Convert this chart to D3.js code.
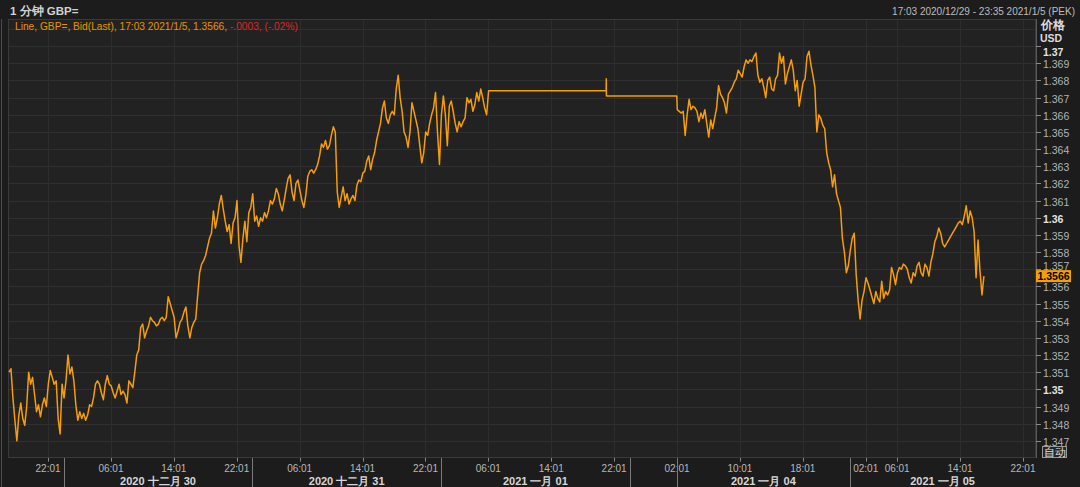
<!DOCTYPE html>
<html><head><meta charset="utf-8">
<script src="https://cdn.jsdelivr.net/npm/d3@7"></script>
<style>
html,body{margin:0;padding:0;background:#1c1c1c;}
svg{display:block;}
text{font-family:"Liberation Sans",Arial,sans-serif;}
</style></head><body>
<svg id="c" width="1080" height="487"></svg>
<script>
// ---------- data ----------
const title = "1 分钟 GBP=";
const rangeLabel = "17:03 2020/12/29 - 23:35 2021/1/5 (PEK)";
const legendMain = "Line, GBP=, Bid(Last), 17:03 2021/1/5, 1.3566, ";
const legendChange = "-.0003, (-.02%)";
const axisTitles = ["价格", "USD"];
const autoLabel = "自动";
const lastPrice = 1.3566;

const gridTicks = [1.347,1.348,1.349,1.350,1.351,1.352,1.353,1.354,1.355,1.356,1.357,1.358,1.359,1.360,1.361,1.362,1.363,1.364,1.365,1.366,1.367,1.368,1.369,1.370,1.371];
const labelTicks = [1.347,1.348,1.349,1.350,1.351,1.352,1.353,1.354,1.355,1.356,1.357,1.358,1.359,1.360,1.361,1.362,1.363,1.364,1.365,1.366,1.367,1.368,1.369,1.370];
const boldTicks = [1.35,1.36,1.37];

const timeTicks = ["2020-12-29T22:01","2020-12-30T06:01","2020-12-30T14:01","2020-12-30T22:01",
  "2020-12-31T06:01","2020-12-31T14:01","2020-12-31T22:01","2021-01-01T06:01","2021-01-01T14:01",
  "2021-01-01T22:01","2021-01-04T02:01","2021-01-04T10:01","2021-01-04T18:01","2021-01-05T02:01",
  "2021-01-05T06:01","2021-01-05T14:01","2021-01-05T22:01"];
const daySeparators = ["2020-12-30T00:00","2020-12-31T00:00","2021-01-01T00:00","2021-01-02T00:00","2021-01-04T02:00","2021-01-05T00:00"];
const dateLabels = ["2020 十二月 30","2020 十二月 31","2021 一月 01","2021 一月 04","2021 一月 05"];
const dateSpans = [["2020-12-30T00:00","2020-12-31T00:00"],["2020-12-31T00:00","2021-01-01T00:00"],
  ["2021-01-01T00:00","2021-01-02T00:00"],["2021-01-04T02:00","2021-01-05T00:00"],["2021-01-05T00:00","2021-01-05T23:35"]];
// trading sessions shown on the (gap-compressed) time axis
const axisBreaks = ["2020-12-29T17:03","2021-01-02T06:00","2021-01-04T02:00","2021-01-05T23:35"];

const stepMinutes = 15;
const seg1Start = "2020-12-29T17:03";
const seg1Prices = [
1.3510,1.3512,1.3495,1.3482,1.3470,1.3485,1.3492,1.3483,1.3479,1.3490,
1.3510,1.3503,1.3507,1.3497,1.3487,1.3491,1.3484,1.3491,1.3495,1.3490,
1.3503,1.3511,1.3507,1.3503,1.3505,1.3483,1.3474,1.3503,1.3495,1.3505,
1.3520,1.3509,1.3513,1.3505,1.3491,1.3482,1.3487,1.3483,1.3486,1.3482,
1.3485,1.3491,1.3490,1.3495,1.3503,1.3505,1.3503,1.3498,1.3494,1.3503,
1.3508,1.3503,1.3502,1.3498,1.3495,1.3499,1.3503,1.3497,1.3499,1.3497,
1.3492,1.3505,1.3503,1.3501,1.3510,1.3520,1.3523,1.3536,1.3538,1.3530,
1.3534,1.3537,1.3542,1.3540,1.3539,1.3537,1.3538,1.3541,1.3542,1.3540,
1.3542,1.3554,1.3550,1.3546,1.3542,1.3530,1.3534,1.3539,1.3541,1.3545,
1.3548,1.3537,1.3530,1.3536,1.3539,1.3541,1.3555,1.3568,1.3573,1.3575,
1.3578,1.3583,1.3588,1.3591,1.3604,1.3594,1.3600,1.3608,1.3613,1.3605,
1.3598,1.3592,1.3596,1.3585,1.3597,1.3600,1.3610,1.3584,1.3574,1.3588,
1.3598,1.3586,1.3603,1.3606,1.3614,1.3598,1.3601,1.3595,1.3600,1.3598,
1.3603,1.3600,1.3604,1.3610,1.3608,1.3611,1.3617,1.3614,1.3608,1.3604,
1.3610,1.3617,1.3623,1.3625,1.3615,1.3610,1.3620,1.3622,1.3616,1.3610,
1.3606,1.3613,1.3624,1.3627,1.3628,1.3626,1.3628,1.3631,1.3636,1.3643,
1.3641,1.3645,1.3640,1.3642,1.3648,1.3653,1.3650,1.3615,1.3606,1.3612,
1.3618,1.3610,1.3614,1.3608,1.3611,1.3613,1.3610,1.3619,1.3622,1.3621,
1.3626,1.3627,1.3633,1.3636,1.3628,1.3634,1.3638,1.3645,1.3650,1.3655,
1.3664,1.3668,1.3658,1.3655,1.3660,1.3662,1.3660,1.3675,1.3683,1.3670,
1.3662,1.3650,1.3647,1.3641,1.3650,1.3667,1.3662,1.3657,1.3652,1.3642,
1.3632,1.3638,1.3650,1.3648,1.3655,1.3660,1.3664,1.3673,1.3650,1.3631,
1.3660,1.3671,1.3660,1.3642,1.3665,1.3668,1.3662,1.3655,1.3650,1.3656,
1.3653,1.3656,1.3658,1.3670,1.3667,1.3669,1.3662,1.3666,1.3673,1.3668,
1.3675,1.3670,1.3664,1.3660,1.3674];
const holidayTimes = ["2021-01-01T06:18","2021-01-01T21:00","2021-01-01T21:01","2021-01-01T21:02","2021-01-02T05:59"];
const holidayPrices = [1.3674,1.3674,1.3681,1.3671,1.3671];
const seg2Start = "2021-01-04T02:03";
const seg2Prices = [
1.3663,1.3662,1.3661,1.3662,1.3648,1.3660,1.3669,1.3663,1.3665,1.3664,
1.3662,1.3656,1.3661,1.3658,1.3663,1.3655,1.3647,1.3657,1.3652,1.3658,
1.3664,1.3677,1.3672,1.3670,1.3667,1.3661,1.3672,1.3674,1.3676,1.3679,
1.3681,1.3686,1.3684,1.3682,1.3688,1.3692,1.3690,1.3692,1.3691,1.3694,
1.3696,1.3683,1.3679,1.3681,1.3676,1.3670,1.3680,1.3682,1.3675,1.3674,
1.3681,1.3683,1.3696,1.3690,1.3694,1.3678,1.3684,1.3688,1.3692,1.3686,
1.3674,1.3680,1.3665,1.3672,1.3679,1.3681,1.3694,1.3697,1.3689,1.3683,
1.3676,1.3650,1.3660,1.3658,1.3654,1.3652,1.3638,1.3632,1.3628,1.3618,
1.3625,1.3614,1.3610,1.3606,1.3588,1.3580,1.3568,1.3572,1.3581,1.3588,
1.3591,1.3567,1.3552,1.3541,1.3552,1.3557,1.3565,1.3562,1.3558,1.3554,
1.3550,1.3557,1.3553,1.3551,1.3563,1.3553,1.3557,1.3555,1.3558,1.3571,
1.3567,1.3561,1.3568,1.3571,1.3570,1.3573,1.3572,1.3570,1.3565,1.3562,
1.3568,1.3566,1.3572,1.3574,1.3568,1.3566,1.3573,1.3571,1.3566,1.3574,
1.3579,1.3586,1.3589,1.3594,1.3591,1.3585,1.3583,1.3585,1.3587,1.3589,
1.3591,1.3593,1.3595,1.3597,1.3598,1.3596,1.3601,1.3607,1.3597,1.3604,
1.3600,1.3592,1.3565,1.3587,1.3569,1.3555,1.3566];

// ---------- layout ----------
const W = 1080, H = 487;
const plot = {left: 8, right: 1036, top: 19, bottom: 458};
const C = {bg:"#1c1c1c", plotBg:"#222222", grid:"#303030", vgrid:"#2d2d2d", border:"#3a3a3a",
  line:"#f59d0a", bright:"#e2e2e2", orange:"#e8920c", red:"#d82a2a"};

const T = s => new Date(s + ":00Z");
const hours = (a, b) => (b - a) / 3.6e6;

// ---------- scales ----------
const br = axisBreaks.map(T);
const xa = plot.left + 1, xb = plot.right - 0.7;
const trading = hours(br[0], br[1]) + hours(br[2], br[3]);
const pph = (xb - xa) / trading;
const xm = xa + hours(br[0], br[1]) * pph;
const x = d3.scaleUtc().domain(br).range([xa, xm, xm, xb]);
const y = d3.scaleLinear().domain([1.346, 1.3716]).range([plot.bottom, plot.top - 0.3]);

// ---------- points ----------
const pts = [];
const s1 = T(seg1Start).getTime();
seg1Prices.forEach((v, i) => pts.push({t: new Date(s1 + i * stepMinutes * 60000), v}));
holidayTimes.forEach((s, i) => pts.push({t: T(s), v: holidayPrices[i]}));
const s2 = T(seg2Start).getTime();
seg2Prices.forEach((v, i) => pts.push({t: new Date(s2 + i * stepMinutes * 60000), v}));

// ---------- draw ----------
const svg = d3.select("#c");
svg.append("rect").attr("width", W).attr("height", H).attr("fill", C.bg);
svg.append("rect").attr("x", plot.left).attr("y", plot.top)
  .attr("width", plot.right - plot.left).attr("height", plot.bottom - plot.top).attr("fill", C.plotBg);

svg.append("line").attr("x1", 1.5).attr("x2", 1.5).attr("y1", plot.top).attr("y2", H)
  .attr("stroke", "#4a4a4a");

// grid
const g = svg.append("g");
g.selectAll(".hg").data(gridTicks).join("line")
  .attr("x1", plot.left).attr("x2", plot.right)
  .attr("y1", d => Math.round(y(d)) + 0.5).attr("y2", d => Math.round(y(d)) + 0.5)
  .attr("stroke", C.grid).attr("stroke-width", 1);
g.selectAll(".vg").data(timeTicks).join("line")
  .attr("x1", d => Math.round(x(T(d))) + 0.5).attr("x2", d => Math.round(x(T(d))) + 0.5)
  .attr("y1", plot.top).attr("y2", plot.bottom)
  .attr("stroke", C.vgrid).attr("stroke-width", 1);

svg.append("rect").attr("x", plot.left + 0.5).attr("y", plot.top + 0.5)
  .attr("width", plot.right - plot.left - 1).attr("height", plot.bottom - plot.top - 1)
  .attr("fill", "none").attr("stroke", C.border);

// clip + line
svg.append("clipPath").attr("id", "clip").append("rect")
  .attr("x", plot.left).attr("y", plot.top).attr("width", plot.right - plot.left).attr("height", plot.bottom - plot.top);
const line = d3.line().x(d => x(d.t)).y(d => y(d.v));
svg.append("path").datum(pts).attr("clip-path", "url(#clip)")
  .attr("d", line).attr("fill", "none").attr("stroke", C.line)
  .attr("stroke-width", 1.5).attr("stroke-linejoin", "round");

// title row
svg.append("text").attr("x", 10).attr("y", 15).attr("fill", "#d2d2d2")
  .attr("font-size", 11.5).attr("font-weight", "bold").text(title);
svg.append("text").attr("x", 1075).attr("y", 15).attr("text-anchor", "end")
  .attr("fill", "#bdbdbd").attr("font-size", 10).text(rangeLabel);

// legend
const lg = svg.append("text").attr("x", 15).attr("y", 29.5).attr("font-size", 10.2);
lg.append("tspan").attr("fill", C.orange).text(legendMain);
lg.append("tspan").attr("fill", C.red).text(legendChange);

// right axis
svg.append("line").attr("x1", plot.right + 0.5).attr("x2", plot.right + 0.5)
  .attr("y1", plot.top).attr("y2", plot.bottom).attr("stroke", "#5a5a5a");
svg.append("text").attr("x", 1041).attr("y", 28.5).attr("fill", "#dcdcdc")
  .attr("font-size", 12).attr("font-weight", "bold").text(axisTitles[0]);
svg.append("text").attr("x", 1040).attr("y", 42).attr("fill", "#dcdcdc")
  .attr("font-size", 10.5).attr("font-weight", "bold").text(axisTitles[1]);
const ya = svg.append("g");
ya.selectAll("line").data(labelTicks).join("line")
  .attr("x1", plot.right).attr("x2", plot.right + 5)
  .attr("y1", d => Math.round(y(d)) + 0.5).attr("y2", d => Math.round(y(d)) + 0.5)
  .attr("stroke", "#8a8a8a");
const isBold = d => boldTicks.some(b => Math.abs(b - d) < 1e-9);
const yp = y(lastPrice);
const tagTop = yp - 6, tagBottom = yp + 6;
// label baseline; a label that would sit under the price tag is lifted just above it
const labelY = d => {
  let b = Math.max(y(d) + 5, 55.5);
  if (b > tagTop && b - 8 < tagBottom) b = tagTop - 0.5;
  return b;
};
ya.selectAll("text").data(labelTicks).join("text")
  .attr("x", plot.right + 7).attr("y", labelY)
  .attr("font-size", 10.5)
  .attr("font-weight", d => isBold(d) ? "bold" : "normal")
  .attr("fill", d => isBold(d) ? C.bright : "#aeb4ba")
  .text(d => isBold(d) ? d3.format(".2f")(d) : d3.format(".3f")(d));

// last price tag
svg.append("rect").attr("x", plot.right).attr("y", tagTop).attr("width", 35).attr("height", 12).attr("fill", "#f5a000");
svg.append("text").attr("x", plot.right + 1.5).attr("y", yp + 4).attr("font-size", 10.5)
  .attr("font-weight", "bold").attr("fill", "#000").text(d3.format(".4f")(lastPrice));

// auto button
svg.append("rect").attr("x", 1042.5).attr("y", 446.5).attr("width", 24).attr("height", 11)
  .attr("fill", "#262626").attr("stroke", "#9a9a9a");
svg.append("text").attr("x", 1054.5).attr("y", 456).attr("text-anchor", "middle")
  .attr("font-size", 11).attr("fill", "#e0e0e0").text(autoLabel);

// bottom axis
const xaG = svg.append("g");
xaG.selectAll("line.tk").data(timeTicks).join("line").attr("class", "tk")
  .attr("x1", d => Math.round(x(T(d))) + 0.5).attr("x2", d => Math.round(x(T(d))) + 0.5)
  .attr("y1", plot.bottom).attr("y2", plot.bottom + 3.5).attr("stroke", "#8a8a8a");
xaG.selectAll("text.tl").data(timeTicks).join("text").attr("class", "tl")
  .attr("x", d => x(T(d))).attr("y", 471.5).attr("text-anchor", "middle")
  .attr("font-size", 10).attr("fill", "#b8b8b8")
  .text(d => d3.utcFormat("%H:%M")(T(d)));
xaG.selectAll("line.sep").data(daySeparators).join("line").attr("class", "sep")
  .attr("x1", d => Math.round(x(T(d))) + 0.5).attr("x2", d => Math.round(x(T(d))) + 0.5)
  .attr("y1", plot.bottom).attr("y2", H).attr("stroke", "#7a7a7a");
xaG.selectAll("text.dl").data(dateLabels).join("text").attr("class", "dl")
  .attr("x", (d, i) => (x(T(dateSpans[i][0])) + x(T(dateSpans[i][1]))) / 2)
  .attr("y", 485).attr("text-anchor", "middle")
  .attr("font-size", 11).attr("font-weight", "bold").attr("fill", "#d6d6d6")
  .text(d => d);
</script>
</body></html>
